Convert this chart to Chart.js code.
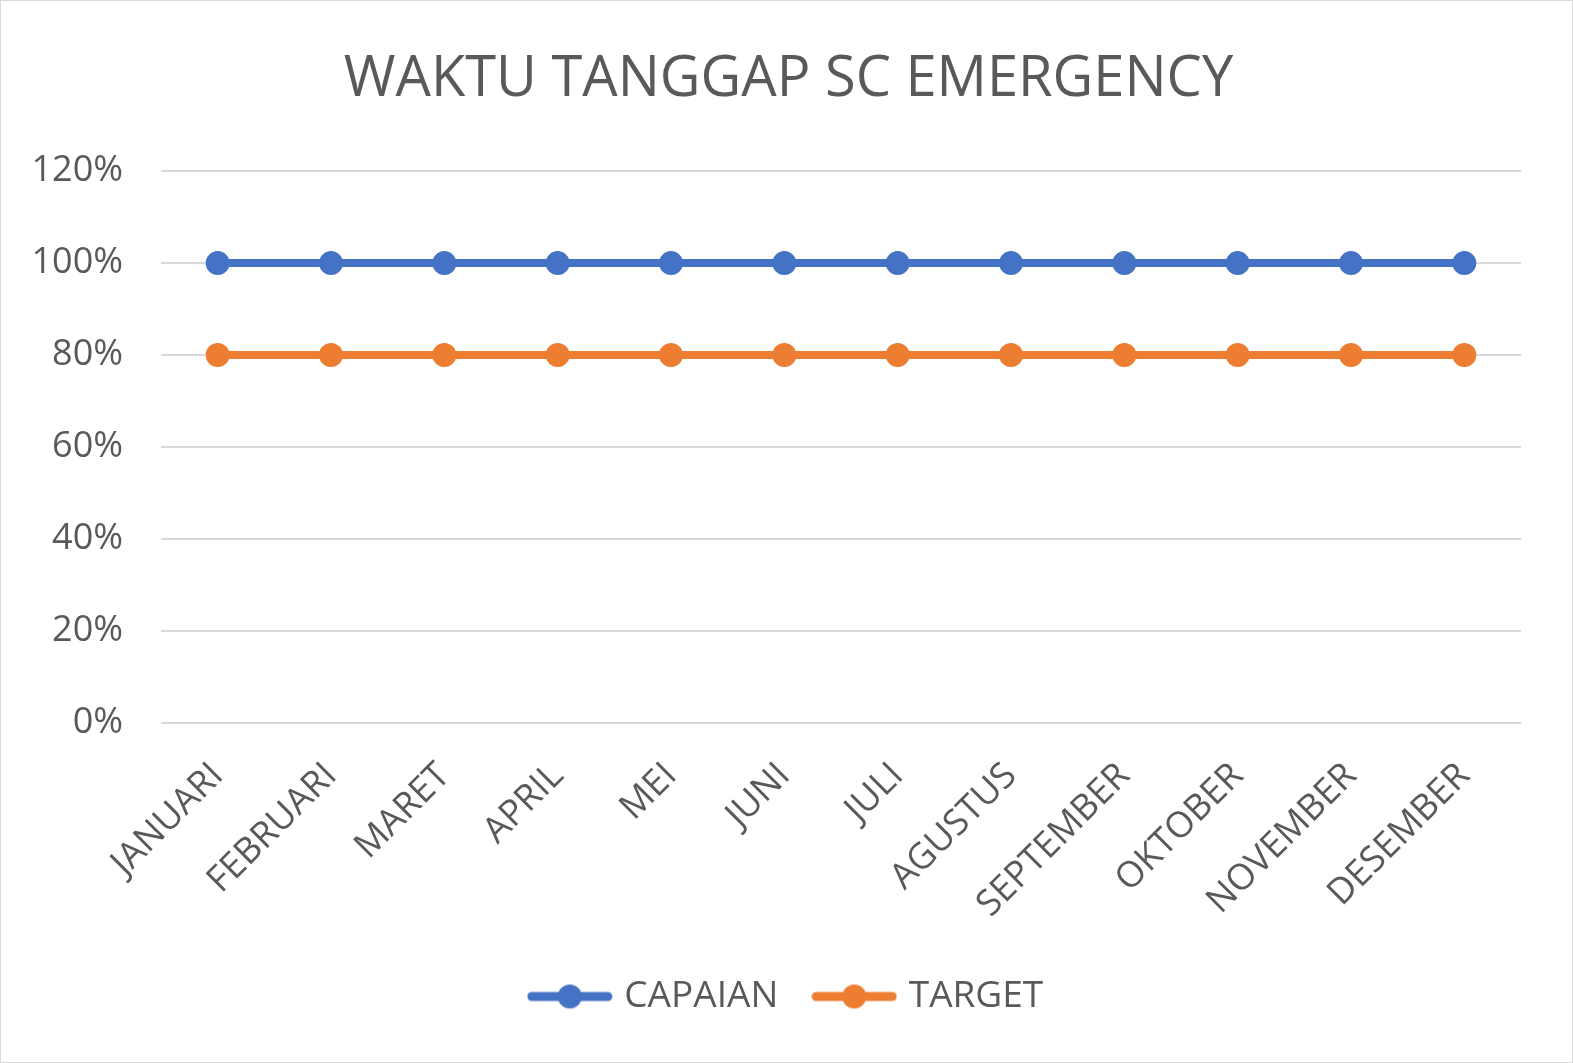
<!DOCTYPE html>
<html>
<head>
<meta charset="utf-8">
<script src="https://cdn.jsdelivr.net/npm/chart.js@4"></script>
<style>
  html, body { margin: 0; padding: 0; background: #fff; }
  #wrap { position: absolute; left: 0; top: 0; width: 1571px; height: 1061px; border: 1px solid #d9d9d9; }
</style>
</head>
<body>
<div id="wrap"><canvas id="ct-chart"></canvas></div>
<script>
"use strict";
const bulan = ["JANUARI", "FEBRUARI", "MARET", "APRIL", "MEI", "JUNI", "JULI", "AGUSTUS", "SEPTEMBER", "OKTOBER", "NOVEMBER", "DESEMBER"];
const capaian = [1, 1, 1, 1, 1, 1, 1, 1, 1, 1, 1, 1];
const target = [0.8, 0.8, 0.8, 0.8, 0.8, 0.8, 0.8, 0.8, 0.8, 0.8, 0.8, 0.8];
const seriesNames = ["CAPAIAN", "TARGET"];
const seriesColors = ["#4472C4", "#ED7D31"];

const fontFam = "'Open Sans', 'Liberation Sans', sans-serif";
const textColor = "#595959";

// legend marker: line with a dot in the middle
function legendMarker(color) {
    const c = document.createElement('canvas');
    c.width = 86; c.height = 26;
    const g = c.getContext('2d');
    g.strokeStyle = color;
    g.lineWidth = 9;
    g.lineCap = 'round';
    g.beginPath();
    g.moveTo(5, 13);
    g.lineTo(81, 13);
    g.stroke();
    g.fillStyle = color;
    g.beginPath();
    g.arc(43, 13, 12, 0, Math.PI * 2);
    g.fill();
    return c;
}

const ctx = document.getElementById('ct-chart').getContext('2d');
new Chart(ctx, {
    type: 'line',
    data: {
        labels: bulan,
        datasets: [capaian, target].map((d, i) => ({
            label: seriesNames[i],
            data: d,
            borderColor: seriesColors[i],
            backgroundColor: seriesColors[i],
            borderWidth: 8,
            pointRadius: 12,
            pointHoverRadius: 12,
            pointBorderWidth: 0,
            tension: 0
        }))
    },
    options: {
        responsive: true,
        maintainAspectRatio: false,
        animation: false,
        layout: { padding: { left: 32, right: 28, top: 20, bottom: 37 } },
        scales: {
            x: {
                offset: true,
                afterFit: axis => { axis.height -= 20; },
                grid: { display: false, drawTicks: false },
                border: { display: false },
                ticks: {
                    color: textColor,
                    font: { family: fontFam, size: 36 },
                    maxRotation: 45,
                    minRotation: 45,
                    autoSkip: false,
                    padding: 32
                }
            },
            y: {
                min: 0,
                max: 1.2,
                afterFit: axis => { axis.width = 128; },
                grid: { color: "#d9d9d9", lineWidth: 2, drawTicks: false },
                border: { display: false },
                ticks: {
                    stepSize: 0.2,
                    color: textColor,
                    font: { family: fontFam, size: 36 },
                    padding: 38,
                    callback: v => Math.round(v * 100) + "%"
                }
            },
            // empty right axis, only to keep the plot where it is
            y2: {
                position: 'right',
                afterFit: axis => { axis.width = 23; },
                grid: { display: false, drawTicks: false },
                border: { display: false },
                ticks: { display: false }
            }
        },
        plugins: {
            title: {
                display: true,
                text: "WAKTU TANGGAP SC EMERGENCY",
                color: textColor,
                font: { family: fontFam, size: 56, weight: 'normal' },
                padding: { top: 25, bottom: 58 }
            },
            legend: {
                position: 'bottom',
                labels: {
                    color: textColor,
                    font: { family: fontFam, size: 37 },
                    usePointStyle: true,
                    pointStyleWidth: 72,
                    padding: 40,
                    generateLabels: chart => chart.data.datasets.map((ds, i) => ({
                        text: ds.label,
                        fontColor: textColor,
                        pointStyle: legendMarker(seriesColors[i]),
                        datasetIndex: i,
                        lineWidth: 0,
                        strokeStyle: seriesColors[i],
                        fillStyle: seriesColors[i]
                    }))
                }
            },
            tooltip: { enabled: false }
        }
    }
});
</script>
</body>
</html>
